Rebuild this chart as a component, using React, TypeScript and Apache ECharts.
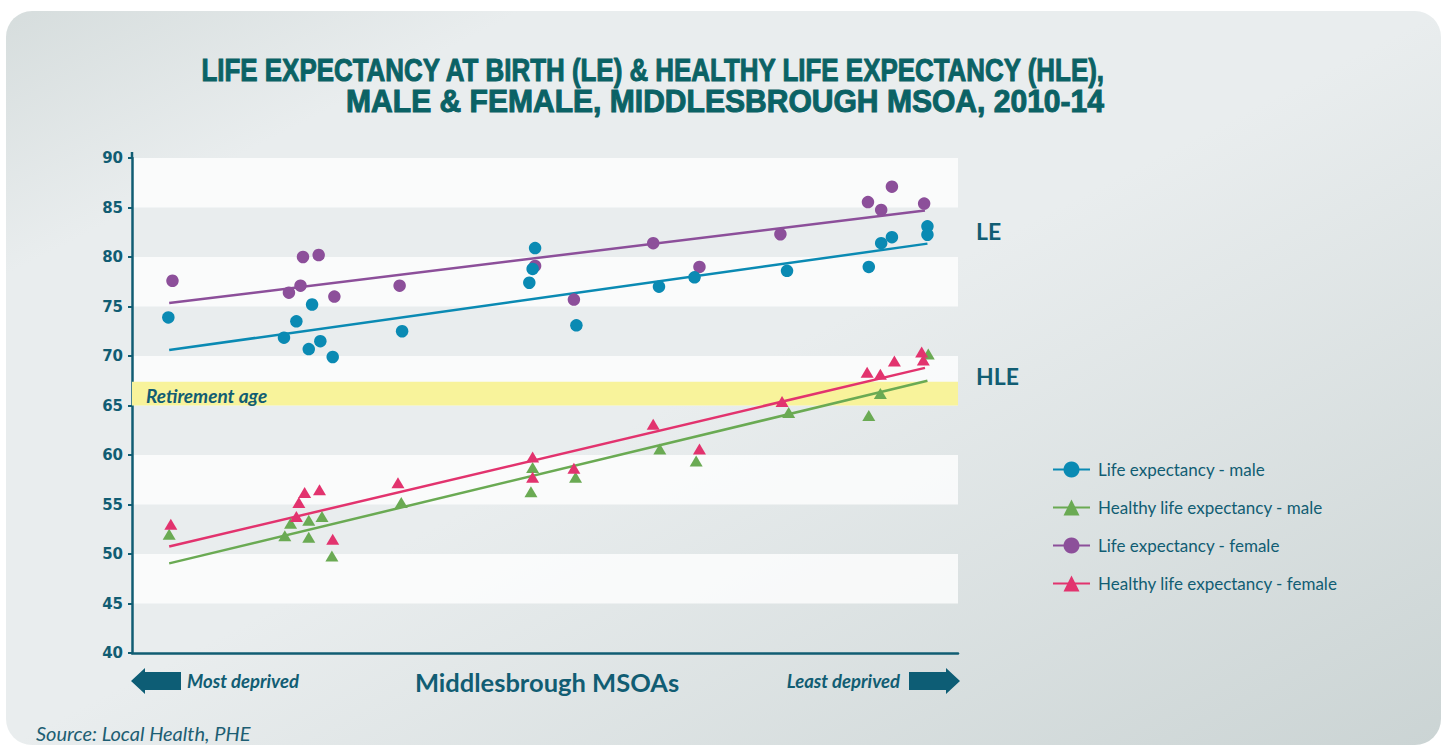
import React, { useEffect, useRef } from "react";
import * as echarts from "echarts";

// ---- data (x = MSOA deprivation position, 0 = most deprived, 100 = least) ----
const maleLEX = [4.4, 18.4, 19.9, 21.8, 21.4, 22.8, 24.3, 32.7, 48.8, 48.5, 48.1, 53.8, 63.8, 68.1, 79.3, 89.2, 90.7, 92.0, 96.3, 96.3];
const maleLEY = [73.9, 71.85, 73.5, 75.2, 70.7, 71.5, 69.9, 72.5, 80.9, 78.8, 77.4, 73.1, 77.0, 77.95, 78.6, 79.0, 81.4, 82.0, 83.1, 82.25];

const femaleLEX = [4.9, 19.0, 20.4, 20.7, 22.6, 24.5, 32.4, 48.8, 53.5, 63.1, 68.7, 78.5, 89.1, 90.7, 92.0, 95.9];
const femaleLEY = [77.6, 76.4, 77.1, 80.0, 80.2, 76.0, 77.1, 79.1, 75.7, 81.4, 79.0, 82.3, 85.55, 84.75, 87.1, 85.4];

const maleHLEX = [4.5, 19.2, 21.4, 23.0, 18.5, 21.4, 24.2, 32.6, 48.5, 48.3, 53.7, 63.9, 68.3, 79.5, 89.2, 90.6, 96.4];
const maleHLEY = [52.0, 53.1, 53.4, 53.8, 51.85, 51.7, 49.8, 55.2, 58.75, 56.3, 57.75, 60.6, 59.4, 64.3, 64.0, 66.2, 70.2];

const femaleHLEX = [4.7, 20.9, 22.7, 20.2, 19.9, 24.3, 32.2, 48.5, 48.5, 53.5, 63.1, 68.7, 78.7, 89.0, 90.6, 92.3, 95.6, 95.8];
const femaleHLEY = [53.0, 56.2, 56.5, 55.2, 53.8, 51.5, 57.2, 59.8, 57.75, 58.65, 63.1, 60.6, 65.4, 68.35, 68.15, 69.5, 70.4, 69.6];

// trend lines: [startX, endX], [startY, endY]
const trendMaleLEX = [4.5, 96.3];
const trendMaleLEY = [70.6, 81.35];
const trendFemaleLEX = [4.5, 96.0];
const trendFemaleLEY = [75.35, 84.7];
const trendMaleHLEX = [4.5, 96.3];
const trendMaleHLEY = [49.05, 67.5];
const trendFemaleHLEX = [4.5, 96.0];
const trendFemaleHLEY = [50.75, 68.8];

const retirementBand = [65, 67.4];

const seriesNames = [
  "Life expectancy - male",
  "Healthy life expectancy - male",
  "Life expectancy - female",
  "Healthy life expectancy - female",
];

const TEAL = "#115d73";
const COLORS = ["#0a8ab3", "#6aaa53", "#8c4f9a", "#e2336e"];
const SYMBOLS = ["circle", "triangle", "circle", "triangle"];
// drawing order of scatter layers (male LE above female LE, female HLE above male HLE)
const SCATTER_Z = [5, 4, 4, 5];

const zip = (xs: number[], ys: number[]) => xs.map((x, i) => [x, ys[i]]);

export default function App() {
  const ref = useRef<HTMLDivElement>(null);

  useEffect(() => {
    if (!ref.current) return;
    const chart = echarts.init(ref.current, undefined, { renderer: "svg" });

    const pts = [
      zip(maleLEX, maleLEY),
      zip(maleHLEX, maleHLEY),
      zip(femaleLEX, femaleLEY),
      zip(femaleHLEX, femaleHLEY),
    ];
    const trends = [
      zip(trendMaleLEX, trendMaleLEY),
      zip(trendMaleHLEX, trendMaleHLEY),
      zip(trendFemaleLEX, trendFemaleLEY),
      zip(trendFemaleHLEX, trendFemaleHLEY),
    ];

    const lineSeries: any[] = seriesNames.map((name, i) => ({
      name,
      type: "line",
      data: trends[i],
      symbol: SYMBOLS[i],
      showSymbol: false,
      z: 2,
      lineStyle: { color: COLORS[i], width: 2.5 },
      itemStyle: { color: COLORS[i] },
      silent: true,
      ...(i === 0
        ? {
            markArea: {
              silent: true,
              itemStyle: { color: "#f8f39b" },
              label: {
                show: true,
                position: "insideLeft",
                distance: 14,
                color: TEAL,
                fontFamily: "Lato",
                fontStyle: "italic",
                fontWeight: "bold",
                fontSize: 19,
                offset: [0, 2],
              },
              data: [[{ yAxis: retirementBand[0], name: "Retirement age" }, { yAxis: retirementBand[1] }]],
            },
          }
        : {}),
    }));

    const scatterSeries: any[] = seriesNames.map((name, i) => ({
      name,
      type: "scatter",
      data: pts[i],
      symbol: SYMBOLS[i],
      symbolSize: SYMBOLS[i] === "circle" ? 12.5 : [13, 11],
      z: SCATTER_Z[i],
      itemStyle: { color: COLORS[i], opacity: 1 },
    }));

    const titleFont = "bold 31px 'Liberation Sans Narrow', 'Liberation Sans', sans-serif";

    const option: any = {
      animation: false,
      grid: { left: 132, top: 158, width: 826, height: 495, containLabel: false },
      xAxis: {
        type: "value",
        min: 0,
        max: 100,
        axisLine: { show: true, lineStyle: { color: TEAL, width: 2.5 } },
        axisTick: { show: false },
        axisLabel: { show: false },
        splitLine: { show: false },
      },
      yAxis: {
        type: "value",
        min: 40,
        max: 90,
        interval: 5,
        axisLine: { show: true, lineStyle: { color: TEAL, width: 2.5 } },
        axisTick: { show: true, length: 4, lineStyle: { color: TEAL, width: 2 } },
        axisLabel: { color: TEAL, fontFamily: "DejaVu Sans", fontWeight: "bold", fontSize: 15, margin: 9 },
        splitLine: { show: false },
        splitArea: { show: true, areaStyle: { color: ["rgba(255,255,255,0)", "rgba(255,255,255,0.78)"] } },
      },
      legend: {
        orient: "vertical",
        left: 1052,
        top: 461,
        padding: 0,
        itemWidth: 37,
        itemHeight: 20,
        itemGap: 21,
        data: seriesNames,
        textStyle: { color: TEAL, fontFamily: "Lato", fontSize: 17, padding: [0, 0, 0, 3] },
      },
      graphic: [
        {
          type: "rect",
          z: -10,
          silent: true,
          shape: { x: 6, y: 11, width: 1435, height: 734, r: 26 },
          style: {
            fill: new echarts.graphic.LinearGradient(0, 0, 1, 1, [
              { offset: 0, color: "#d6dddd" },
              { offset: 0.18, color: "#e9edee" },
              { offset: 0.5, color: "#e9edee" },
              { offset: 1, color: "#cbd4d4" },
            ]),
          },
        },
        {
          type: "line",
          shape: { x1: 132, y1: 152, x2: 132, y2: 159 },
          style: { stroke: TEAL, lineWidth: 2.5 },
        },
        {
          type: "text",
          x: 1104,
          y: 70,
          scaleX: 0.836,
          style: {
            text: "LIFE EXPECTANCY AT BIRTH (LE) & HEALTHY LIFE EXPECTANCY (HLE),",
            font: titleFont,
            fill: "#0b6265",
            stroke: "#0b6265",
            lineWidth: 1,
            align: "right",
            verticalAlign: "middle",
          },
        },
        {
          type: "text",
          x: 1104,
          y: 101,
          scaleX: 0.97,
          style: {
            text: "MALE & FEMALE, MIDDLESBROUGH MSOA, 2010-14",
            font: titleFont,
            fill: "#0b6265",
            stroke: "#0b6265",
            lineWidth: 1,
            align: "right",
            verticalAlign: "middle",
          },
        },
        {
          type: "text",
          x: 976,
          y: 231,
          style: { text: "LE", font: "bold 23px Lato", fill: TEAL, verticalAlign: "middle" },
        },
        {
          type: "text",
          x: 976,
          y: 376,
          style: { text: "HLE", font: "bold 23px Lato", fill: TEAL, verticalAlign: "middle" },
        },
        {
          type: "polygon",
          shape: { points: [[131, 681], [145, 668], [145, 672], [181, 672], [181, 690], [145, 690], [145, 694]] },
          style: { fill: "#0d5d75" },
        },
        {
          type: "polygon",
          shape: { points: [[960, 681], [946, 668], [946, 672], [909, 672], [909, 690], [946, 690], [946, 694]] },
          style: { fill: "#0d5d75" },
        },
        {
          type: "text",
          x: 187,
          y: 681,
          style: { text: "Most deprived", font: "italic bold 18.5px Lato", fill: TEAL, verticalAlign: "middle" },
        },
        {
          type: "text",
          x: 900,
          y: 681,
          style: { text: "Least deprived", font: "italic bold 18.5px Lato", fill: TEAL, align: "right", verticalAlign: "middle" },
        },
        {
          type: "text",
          x: 547,
          y: 682,
          style: { text: "Middlesbrough MSOAs", font: "bold 25.5px Lato", fill: TEAL, align: "center", verticalAlign: "middle" },
        },
        {
          type: "text",
          x: 36,
          y: 733,
          style: { text: "Source: Local Health, PHE", font: "italic 20px Lato", fill: "#1d5e73", verticalAlign: "middle" },
        },
      ],
      series: [...lineSeries, ...scatterSeries],
    };

    chart.setOption(option);
    return () => chart.dispose();
  }, []);

  return (
    <div
      ref={ref}
      style={{ position: "fixed", left: 0, top: 0, width: 1447, height: 747, background: "#ffffff" }}
    />
  );
}
